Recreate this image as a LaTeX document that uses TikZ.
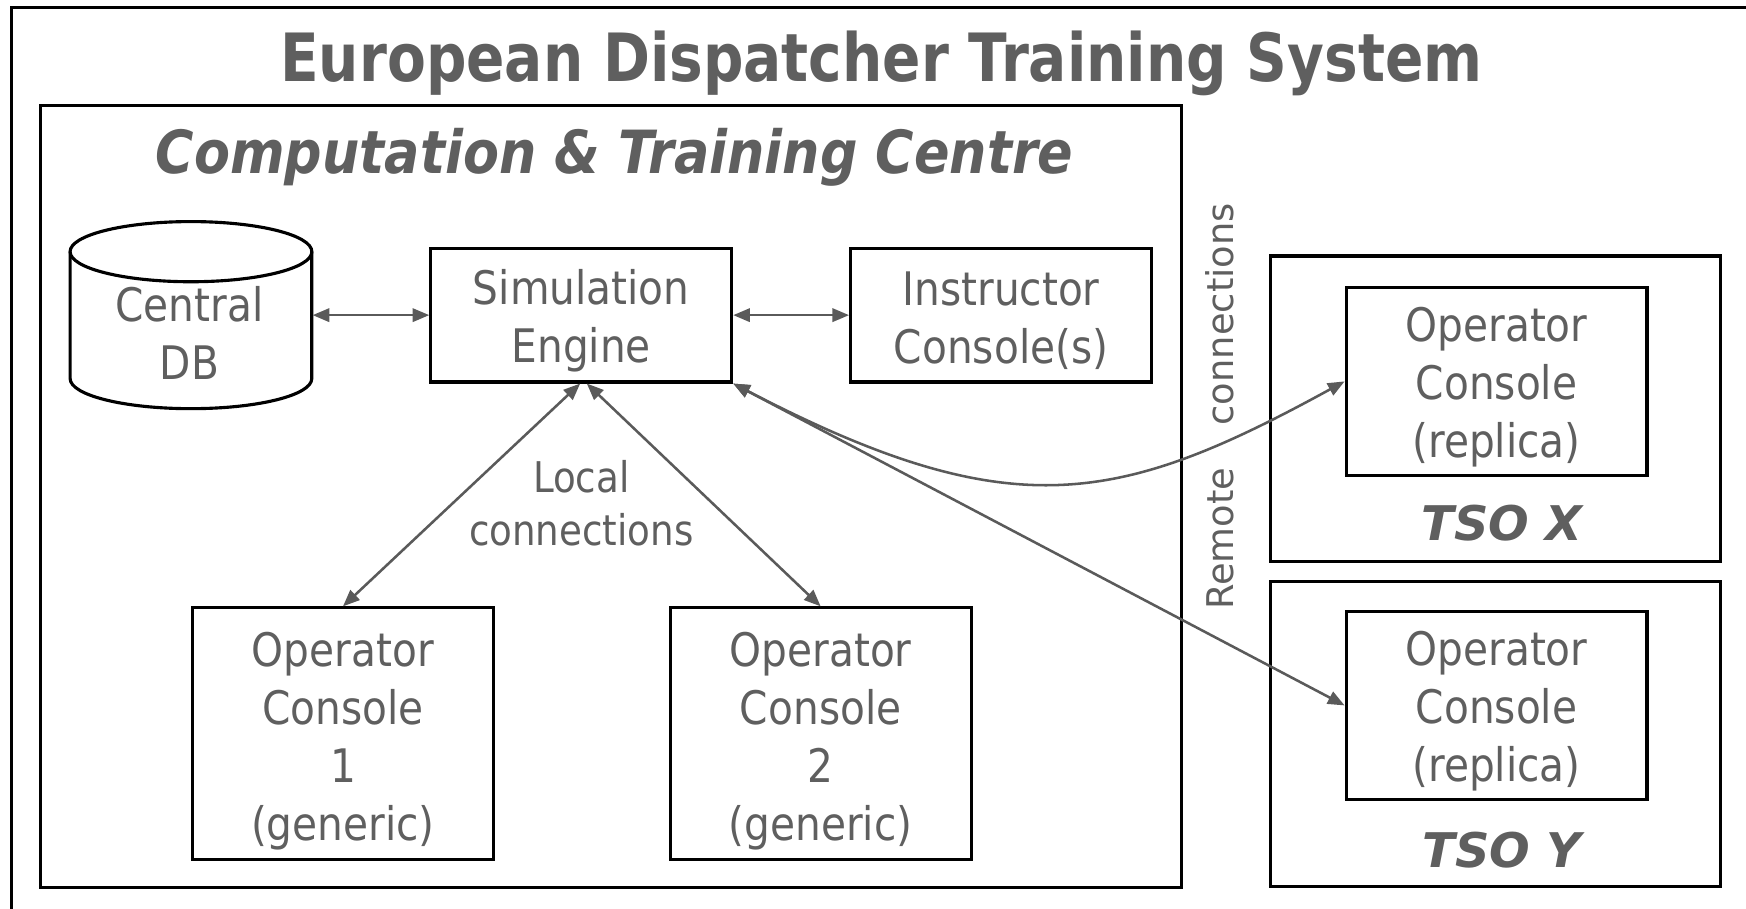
\documentclass[tikz,border=0pt]{standalone}
\usepackage{fontspec}
\setmainfont{DejaVu Sans}
\newfontfamily\bodyf{DejaVu Sans}[FakeStretch=0.88]
\newfontfamily\titlef{DejaVu Sans Bold}[FakeStretch=0.85]
\newfontfamily\ctcf{DejaVu Sans Bold Oblique}[FakeStretch=0.88]
\newfontfamily\tsof{DejaVu Sans Bold Oblique}
\usetikzlibrary{arrows.meta,calc}
\definecolor{txtgray}{RGB}{95,95,95}
\definecolor{arrgray}{RGB}{90,90,90}
\begin{document}
\begin{tikzpicture}[x=0.01cm,y=-0.01cm,
  frame/.style={draw=black,line width=0.8pt,inner sep=0pt},
  box/.style={draw=black,line width=0.8pt,minimum width=2.7cm,inner sep=0pt},
  btext/.style={text=txtgray,inner sep=0pt,align=center,
    font=\bodyf\fontsize{11.8}{14.8}\selectfont},
  conn/.style={draw=arrgray,line width=0.65pt,
    {Triangle[length=0.15cm,width=0.12cm]}-{Triangle[length=0.15cm,width=0.12cm]}},
  plain/.style={text=txtgray,inner sep=0pt}]
\useasboundingbox (0,0) rectangle (1568,816.3);
% outer frame (only top and left visible)
\draw[line width=0.8pt] (10,840) -- (10,6.6) -- (1590,6.6);
% title
\node[plain,anchor=base,font=\titlef\fontsize{17}{20}\selectfont] (title) at (791.5,73.4) {European Dispatcher Training System};
% computation & training centre
\node[frame,minimum width=10.24cm,minimum height=7.02cm] (ctc) at (549,446) {};
\node[plain,anchor=base,font=\ctcf\fontsize{15.2}{18}\selectfont] (ctct) at (552,156) {Computation \& Training Centre};
% central DB cylinder
\node[inner sep=0pt,minimum width=2.17cm,minimum height=1.68cm] (db) at (171.5,283) {};
\draw[line width=0.8pt] (63,226) -- (63,340)
  .. controls (63,354.9) and (111.6,367) .. (171.5,367)
  .. controls (231.4,367) and (280,354.9) .. (280,340) -- (280,226);
\draw[line width=0.8pt] (171.5,226) ellipse[x radius=1.085cm,y radius=0.27cm];
\node[btext] (dbt) at (170,299) {Central\\DB};
% boxes
\node[box,minimum height=1.2cm] (se) at (522,283) {};
\node[btext] (set) at ([yshift=-0.05cm]se.center) {Simulation\\Engine};
\node[box,minimum height=1.2cm] (ic) at (899,283) {};
\node[btext] (ict) at ([yshift=-0.05cm]ic.center) {Instructor\\Console(s)};
\node[box,minimum height=2.26cm] (oc1) at (308,659) {};
\node[btext] (oc1t) at ([yshift=-0.065cm]oc1.center) {Operator\\Console\\1\\(generic)};
\node[box,minimum height=2.26cm] (oc2) at (737,659) {};
\node[btext] (oc2t) at ([yshift=-0.065cm]oc2.center) {Operator\\Console\\2\\(generic)};
\node[plain,align=center,font=\bodyf\fontsize{10.8}{13.4}\selectfont] (lc) at (522,452) {Local\\connections};
% TSO X
\node[frame,minimum width=4.04cm,minimum height=2.74cm] (tsox) at (1343,367) {};
\node[box,minimum height=1.69cm] (tx) at (1344,342.5) {};
\node[btext] (txt) at ([yshift=-0.05cm]tx.center) {Operator\\Console\\(replica)};
\node[plain,anchor=base,font=\tsof\fontsize{12.2}{14}\selectfont] (txl) at (1349,485) {TSO X};
% TSO Y
\node[frame,minimum width=4.04cm,minimum height=2.74cm] (tsoy) at (1343,659) {};
\node[box,minimum height=1.69cm] (ty) at (1344,633.5) {};
\node[btext] (tyt) at ([yshift=-0.05cm]ty.center) {Operator\\Console\\(replica)};
\node[plain,anchor=base,font=\tsof\fontsize{12.2}{14}\selectfont] (tyl) at (1349,779) {TSO Y};
% remote connections label
\node[plain,rotate=90,font=\fontsize{9.4}{11}\selectfont] (rc) at (1095,365) {Remote\hspace{1.15em}connections};
% connectors
\draw[conn] (db.east) -- (se.west);
\draw[conn] (se.east) -- (ic.west);
\draw[conn] ([xshift=-0.01cm]se.south) -- (oc1.north);
\draw[conn] ([xshift=0.05cm]se.south) -- (oc2.north);
\draw[conn] (se.south east) -- (ty.west);
\draw[conn] (se.south east) .. controls (908,474) and (1004,454) .. (tx.west);
\end{tikzpicture}
\end{document}
